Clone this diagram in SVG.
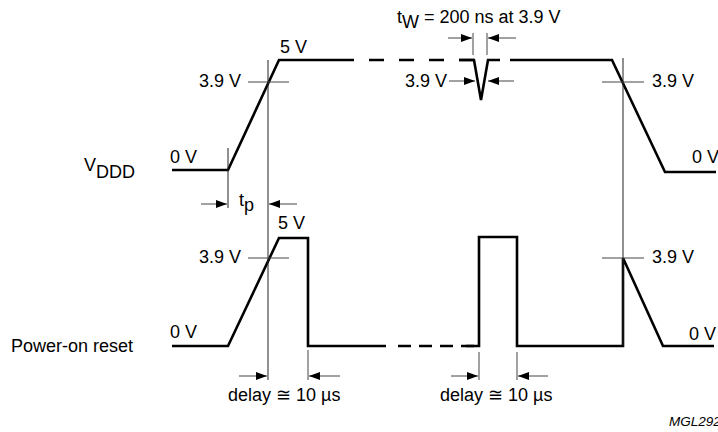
<svg xmlns="http://www.w3.org/2000/svg" width="718" height="432" viewBox="0 0 718 432">
<style>
text{font-family:"Liberation Sans",Arial,sans-serif;font-size:18px;fill:#000}
.wave{fill:none;stroke:#000;stroke-width:2.6;stroke-linejoin:miter}
.dash{fill:none;stroke:#000;stroke-width:2.6;stroke-dasharray:15 15}
.ref{fill:none;stroke:#222;stroke-width:1}
.tick{fill:none;stroke:#444;stroke-width:1}
.arr{fill:none;stroke:#444;stroke-width:1;marker-end:url(#ah)}
</style>
<defs>
<marker id="ah" markerWidth="11" markerHeight="8" refX="11" refY="4" orient="auto" markerUnits="userSpaceOnUse">
<path d="M0,0 L11,4 L0,8 Z" fill="#000"/>
</marker>
</defs>
<g id="labels">
<text x="84" y="171">V<tspan dy="7">DDD</tspan></text>
<text x="11" y="352">Power-on reset</text>
</g>
<g id="vddd">
<path class="wave" d="M172,170 L228,170 L279,60 L354,60"/>
<path class="dash" d="M369,60 L474,60"/>
<path class="wave" d="M459,60 L474,60 L481,100 L488,60 L500,60"/>
<path class="wave" d="M510,60 L612,60 L665,172 L716,172"/>
<text x="280" y="53">5 V</text>
<text x="241" y="87" text-anchor="end">3.9 V</text>
<text x="170" y="163">0 V</text>
<text x="652" y="87">3.9 V</text>
<text x="692" y="163">0 V</text>
<text x="447" y="87" text-anchor="end">3.9 V</text>
<text x="397" y="23">t<tspan dy="5">W</tspan><tspan dy="-5"> = 200 ns at 3.9 V</tspan></text>
<text x="239" y="206">t<tspan dy="5">p</tspan></text>
</g>
<g id="reset">
<path class="wave" d="M172,346 L228,346 L279,238 L308,238 L308,346 L386,346"/>
<path class="dash" style="stroke-dasharray:13 8" d="M398,346 L479,346"/>
<path class="wave" d="M466,346 L479,346 L479,237 L517,237 L517,346 L623,346 L623,258 L663,346 L714,346"/>
<text x="278" y="229">5 V</text>
<text x="241" y="263" text-anchor="end">3.9 V</text>
<text x="170" y="338">0 V</text>
<text x="652" y="263">3.9 V</text>
<text x="689" y="340">0 V</text>
<text x="228" y="401">delay ≅ 10 µs</text>
<text x="440" y="401">delay ≅ 10 µs</text>
</g>
<g id="connectors">
<line class="ref" x1="268" y1="60" x2="268" y2="380"/>
<line class="ref" x1="623" y1="58" x2="623" y2="346"/>
<line class="ref" x1="228" y1="148" x2="228" y2="208"/>
<line class="tick" x1="248" y1="82" x2="289" y2="82"/>
<line class="tick" x1="602" y1="82" x2="644" y2="82"/>
<line class="tick" x1="248" y1="258" x2="289" y2="258"/>
<line class="tick" x1="602" y1="258" x2="644" y2="258"/>
<line class="tick" x1="473" y1="33" x2="473" y2="55"/>
<line class="tick" x1="487" y1="33" x2="487" y2="55"/>
<line class="tick" x1="308" y1="350" x2="308" y2="380"/>
<line class="tick" x1="479" y1="352" x2="479" y2="380"/>
<line class="tick" x1="517" y1="352" x2="517" y2="380"/>
<line class="arr" x1="448" y1="38" x2="472" y2="38"/>
<line class="arr" x1="516" y1="38" x2="488" y2="38"/>
<line class="arr" x1="449" y1="81" x2="475" y2="81"/>
<line class="arr" x1="514" y1="81" x2="488" y2="81"/>
<line class="arr" x1="201" y1="204" x2="227" y2="204"/>
<line class="arr" x1="297" y1="204" x2="269" y2="204"/>
<line class="arr" x1="239" y1="376" x2="267" y2="376"/>
<line class="arr" x1="340" y1="376" x2="309" y2="376"/>
<line class="arr" x1="451" y1="376" x2="478" y2="376"/>
<line class="arr" x1="548" y1="376" x2="518" y2="376"/>
</g>
<text x="669" y="426" style="font-style:italic;font-size:13.5px">MGL292</text>
</svg>
